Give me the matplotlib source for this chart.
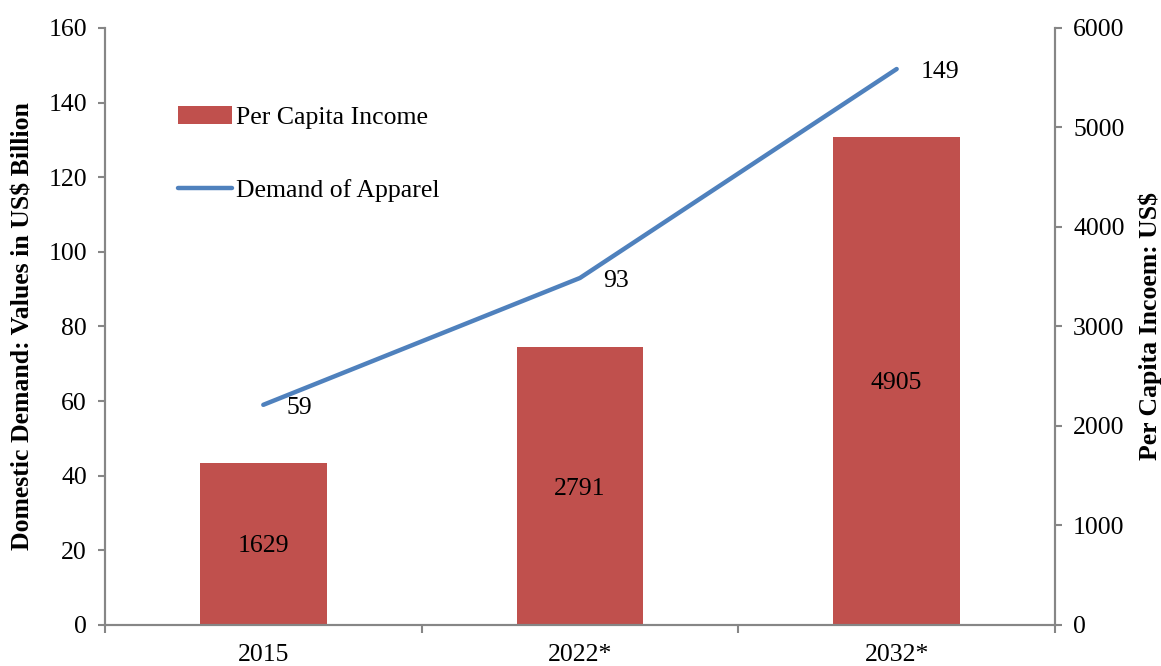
import matplotlib.pyplot as plt
import numpy as np

plt.rcParams['font.family'] = ['Liberation Serif', 'DejaVu Serif']

years = ['2015', '2022*', '2032*']
demand = [59, 93, 149]          # US$ billion, left axis
income = [1629, 2791, 4905]     # US$, right axis

bar_col = '#C0504D'
line_col = '#4F81BD'
grey = '#868686'
fs = 18.5

fig = plt.figure(figsize=(11.61, 6.66), dpi=100)
ax = fig.add_axes([0.0904, 0.0616, 0.8183, 0.8964])
ax2 = ax.twinx()

x = np.arange(len(years))
bars = ax2.bar(x, income, width=0.4, color=bar_col, label='Per Capita Income', zorder=2)
for xi, v in zip(x, income):
    ax2.text(xi, v / 2, str(v), ha='center', va='center_baseline', fontsize=fs)

ln, = ax.plot(x, demand, color=line_col, lw=3.2, solid_capstyle='round', label='Demand of Apparel')
for xi, v in zip(x, demand):
    ax.annotate(str(v), (xi, v), xytext=(17, -2), textcoords='offset points',
                ha='left', va='center', fontsize=fs)

ax.set_zorder(ax2.get_zorder() + 1)
ax.patch.set_visible(False)

ax.set_xlim(-0.5, 2.5)
ax.set_ylim(0, 160)
ax2.set_ylim(0, 6000)
ax.set_yticks(np.arange(0, 161, 20))
ax2.set_yticks(np.arange(0, 6001, 1000))

ax.set_xticks([-0.5, 0.5, 1.5, 2.5])
ax.set_xticklabels([])
ax.set_xticks(x, minor=True)
ax.set_xticklabels(years, minor=True)
ax.tick_params(axis='x', which='minor', length=0, pad=14, labelsize=fs)
ax.tick_params(axis='x', which='major', length=6, color=grey, width=1.5)
ax.tick_params(axis='y', length=5, color=grey, width=1.5, labelsize=fs, pad=8)
ax2.tick_params(axis='y', length=5, color=grey, width=1.5, labelsize=fs, pad=8)

for a in (ax, ax2):
    a.spines['top'].set_visible(False)
    for s in ('left', 'right', 'bottom'):
        a.spines[s].set_color(grey)
        a.spines[s].set_linewidth(1.5)

ax.set_ylabel('Domestic Demand: Values in US$ Billion', fontsize=fs, fontweight='bold', labelpad=10)
ax2.set_ylabel('Per Capita Incoem: US$', fontsize=fs, fontweight='bold', labelpad=10)

ax.legend([bars, ln], ['Per Capita Income', 'Demand of Apparel'], loc='upper left',
          bbox_to_anchor=(0.077, 0.869), frameon=False, fontsize=fs, handlelength=2.1,
          handletextpad=0.15, labelspacing=1.95, borderpad=0, borderaxespad=0)

fig.savefig('out.png', dpi=100)
